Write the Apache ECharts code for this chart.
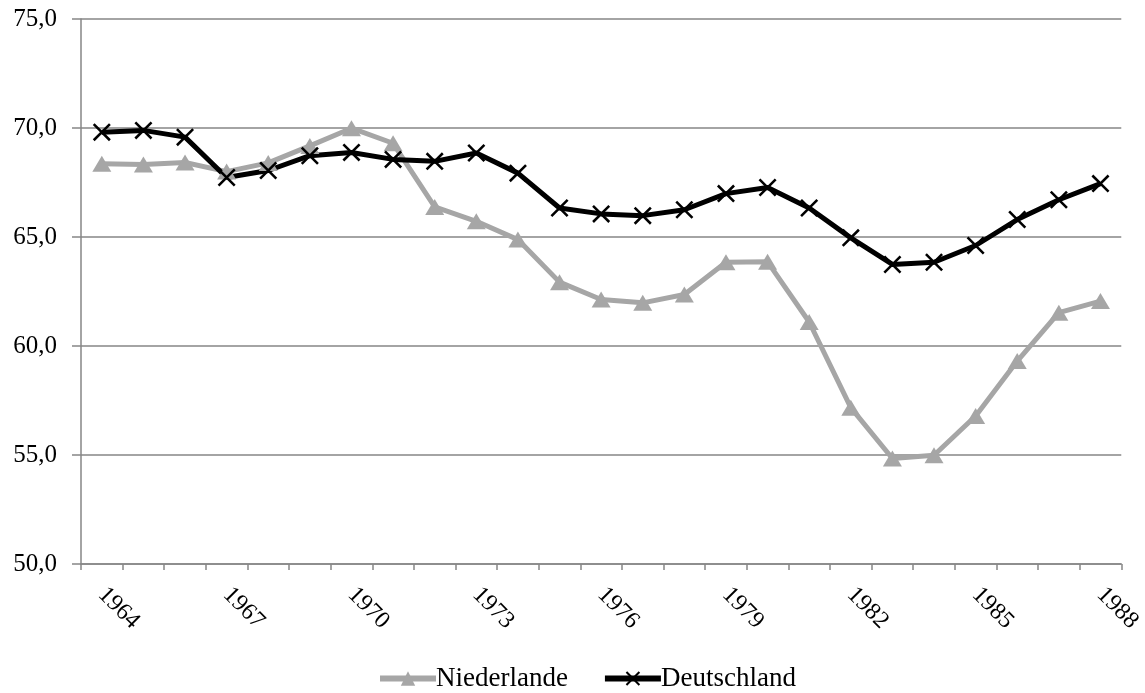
<!DOCTYPE html>
<html>
<head>
<meta charset="utf-8">
<script src="https://cdn.jsdelivr.net/npm/echarts@6/dist/echarts.min.js"></script>
<style>html,body{margin:0;padding:0;background:#fff}#c{width:1145px;height:693px}</style>
</head>
<body>
<div id="c"></div>
<script>
const years = ['1964','1965','1966','1967','1968','1969','1970','1971','1972','1973','1974','1975','1976','1977','1978','1979','1980','1981','1982','1983','1984','1985','1986','1987','1988'];
const niederlande = [68.36,68.33,68.42,68.0,68.4,69.18,69.99,69.3,66.38,65.72,64.88,62.93,62.13,61.98,62.36,63.84,63.86,61.1,57.17,54.84,54.99,56.79,59.31,61.53,62.06];
const deutschland = [69.81,69.89,69.58,67.73,68.05,68.73,68.88,68.56,68.47,68.85,67.93,66.33,66.06,65.98,66.25,66.99,67.27,66.33,64.96,63.74,63.84,64.61,65.80,66.71,67.45];
const yMin = 50, yMax = 75, yStep = 5;

const font = 'Liberation Serif';
const xSym = 'path://M0,1L1,0L10,9L9,10Z M9,0L10,1L1,10L0,9Z';

const chart = echarts.init(document.getElementById('c'));
chart.setOption({
  animation: false,
  backgroundColor: '#ffffff',
  grid: { left: 81, right: 23, top: 19, bottom: 129 },
  xAxis: {
    type: 'category',
    data: years,
    boundaryGap: true,
    axisLine: { show: true, lineStyle: { color: '#868686', width: 1.5 } },
    axisTick: { show: true, interval: 0, length: 6, lineStyle: { color: '#868686', width: 1.5 } },
    axisLabel: { interval: 2, rotate: -45, margin: 27, fontFamily: font, fontSize: 24, color: '#000' },
    splitLine: { show: false }
  },
  yAxis: {
    type: 'value',
    min: yMin, max: yMax, interval: yStep,
    axisLine: { show: true, lineStyle: { color: '#868686', width: 1.5 } },
    axisTick: { show: true, length: 9, lineStyle: { color: '#868686', width: 1.5 } },
    axisLabel: { fontFamily: font, fontSize: 25, color: '#000', margin: 24,
      formatter: v => v.toFixed(1).replace('.', ',') },
    splitLine: { show: true, lineStyle: { color: '#868686', width: 1.5 } }
  },
  legend: {
    top: 660, left: 372,
    itemWidth: 56, itemHeight: 18, itemGap: 34,
    textStyle: { fontFamily: font, fontSize: 27, color: '#000', padding: [0,0,0,-5] },
    data: [
      { name: 'Niederlande', lineStyle: { width: 6, color: '#a6a6a6' } },
      { name: 'Deutschland', lineStyle: { width: 6, color: '#000' } }
    ]
  },
  series: [
    {
      name: 'Niederlande', type: 'line', data: niederlande,
      symbol: 'triangle', symbolSize: [19, 16],
      lineStyle: { color: '#a6a6a6', width: 5 },
      itemStyle: { color: '#a6a6a6' }
    },
    {
      name: 'Deutschland', type: 'line', data: deutschland,
      symbol: xSym, symbolSize: 18,
      lineStyle: { color: '#000', width: 5 },
      itemStyle: { color: '#000' }
    }
  ]
});
</script>
</body>
</html>
